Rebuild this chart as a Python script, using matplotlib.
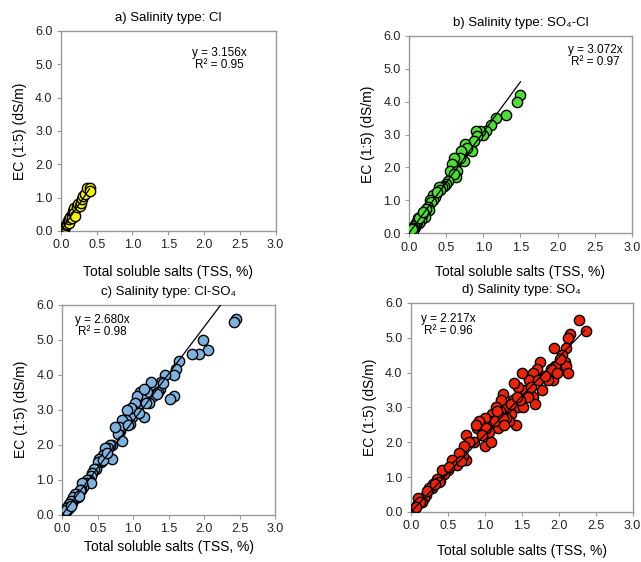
import matplotlib.pyplot as plt
import numpy as np

plt.rcParams['font.family'] = ['Liberation Sans', 'DejaVu Sans']

# ------ data ------
titles = ['a) Salinity type: Cl', 'b) Salinity type: SO\u2084-Cl',
          'c) Salinity type: Cl-SO\u2084', 'd) Salinity type: SO\u2084']
slopes = [3.156, 3.072, 2.680, 2.217]
r2 = [0.95, 0.97, 0.98, 0.96]
line_end = [0.40, 1.50, 2.24, 2.35]
colors = ['#f2ef1a', '#4fdc3a', '#7fb2de', '#e8250a']

a_x = [0.05, 0.06, 0.07, 0.08, 0.10, 0.11, 0.12, 0.13, 0.15, 0.16, 0.17, 0.18,
       0.19, 0.20, 0.22, 0.24, 0.26, 0.28, 0.30, 0.31, 0.33, 0.37, 0.40, 0.40]
a_y = [0.08, 0.12, 0.18, 0.22, 0.30, 0.25, 0.35, 0.42, 0.48, 0.40, 0.60, 0.70,
       0.55, 0.45, 0.72, 0.80, 0.75, 0.85, 0.95, 1.05, 1.10, 1.28, 1.30, 1.20]

b_x = [1.50, 1.45, 1.30, 1.17, 1.10, 1.03, 1.00, 0.95, 0.90, 0.92, 0.88, 0.85,
       0.76, 0.78, 0.72, 0.74, 0.70, 0.68, 0.60, 0.62, 0.58, 0.56, 0.55, 0.65,
       0.63, 0.60, 0.52, 0.50, 0.47, 0.45, 0.40, 0.42, 0.36, 0.35, 0.33, 0.32,
       0.28, 0.30, 0.25, 0.27, 0.23, 0.20, 0.22, 0.18, 0.15, 0.16, 0.12, 0.13,
       0.11, 0.10, 0.09, 0.08, 0.07, 0.06, 0.05, 0.05, 0.04, 0.14, 0.19, 0.38]
b_y = [4.20, 4.00, 3.60, 3.50, 3.30, 3.10, 3.00, 3.10, 3.10, 2.95, 2.80, 2.50,
       2.70, 2.60, 2.40, 2.20, 2.50, 2.30, 2.30, 2.00, 2.10, 1.85, 1.90, 1.90,
       1.70, 1.80, 1.60, 1.50, 1.45, 1.40, 1.40, 1.30, 1.20, 1.10, 1.15, 1.00,
       1.00, 0.95, 0.80, 0.70, 0.75, 0.60, 0.50, 0.55, 0.50, 0.40, 0.45, 0.30,
       0.35, 0.30, 0.25, 0.20, 0.22, 0.15, 0.10, 0.08, 0.12, 0.45, 0.65, 1.25]

c_x = [2.45, 2.42, 1.98, 2.05, 1.93, 1.83, 1.65, 1.60, 1.57, 1.58, 1.52, 1.45,
       1.40, 1.38, 1.30, 1.25, 1.28, 1.20, 1.22, 1.15, 1.10, 1.12, 1.05, 1.07,
       1.02, 1.00, 0.98, 0.95, 0.97, 0.92, 0.90, 0.88, 0.85, 0.82, 0.80, 0.78,
       0.84, 0.75, 0.70, 0.68, 0.65, 0.62, 0.60, 0.58, 0.70, 0.55, 0.52, 0.50,
       0.48, 0.45, 0.42, 0.40, 0.38, 0.35, 0.33, 0.40, 0.30, 0.28, 0.26, 0.25,
       0.22, 0.20, 0.18, 0.17, 0.15, 0.14, 0.12, 0.11, 0.10, 0.09, 0.08, 0.07,
       0.06, 0.05, 0.05, 1.35, 1.18, 1.08, 1.16, 0.93, 1.33, 1.42, 0.57, 0.63,
       0.24, 0.13]
c_y = [5.60, 5.50, 5.00, 4.70, 4.60, 4.60, 4.40, 4.15, 4.00, 3.40, 3.30, 4.00,
       3.80, 3.60, 3.70, 3.80, 3.40, 3.50, 3.20, 2.80, 3.50, 3.30, 3.40, 3.10,
       3.20, 3.00, 2.80, 2.60, 3.05, 3.00, 2.70, 2.60, 2.70, 2.40, 2.50, 2.30,
       2.10, 2.50, 2.00, 2.00, 1.90, 1.80, 1.90, 1.70, 1.60, 1.50, 1.60, 1.50,
       1.30, 1.30, 1.20, 1.10, 1.00, 1.00, 0.90, 0.90, 0.80, 0.90, 0.70, 0.70,
       0.50, 0.60, 0.60, 0.45, 0.50, 0.35, 0.40, 0.30, 0.30, 0.20, 0.22, 0.15,
       0.18, 0.10, 0.14, 3.50, 3.20, 2.90, 3.60, 2.55, 3.45, 3.75, 1.55, 1.75,
       0.55, 0.25]

d_x = [2.28, 2.37, 2.15, 2.12, 2.10, 1.93, 2.05, 2.08, 2.10, 2.13, 1.95, 1.90,
       1.92, 1.85, 1.75, 1.78, 1.70, 1.65, 1.60, 1.65, 1.50, 1.55, 1.45, 1.40,
       1.38, 1.45, 1.42, 1.35, 1.30, 1.25, 1.22, 1.20, 1.15, 1.10, 1.12, 1.05,
       1.00, 0.95, 0.92, 0.90, 0.98, 1.00, 1.08, 0.85, 0.75, 0.78, 0.72, 0.75,
       0.70, 0.65, 0.60, 0.55, 0.50, 0.45, 0.42, 0.40, 0.35, 0.30, 0.28, 0.25,
       0.20, 0.18, 0.15, 0.10, 0.08, 0.05, 1.62, 1.68, 1.58, 1.52, 1.48, 1.33,
       1.28, 1.18, 1.14, 1.06, 1.02, 0.96, 0.88, 1.24, 1.36, 1.72, 1.82, 1.98,
       2.02, 0.62, 0.68, 0.52, 0.38, 0.33, 0.22, 0.12, 0.07, 1.16, 1.26, 1.44]
d_y = [5.50, 5.20, 5.10, 5.00, 4.70, 4.70, 4.50, 4.30, 4.20, 4.00, 4.20, 4.10,
       3.80, 3.80, 4.30, 3.50, 4.10, 4.00, 3.80, 3.30, 4.00, 3.50, 3.60, 3.70,
       3.20, 3.00, 2.50, 2.80, 3.00, 3.40, 3.20, 2.90, 3.00, 2.80, 2.50, 2.60,
       2.70, 2.50, 2.60, 2.40, 2.30, 1.90, 2.00, 2.00, 2.20, 2.00, 1.90, 1.50,
       1.60, 1.70, 1.40, 1.50, 1.20, 1.10, 1.20, 0.90, 0.95, 0.80, 0.70, 0.70,
       0.50, 0.40, 0.30, 0.40, 0.20, 0.10, 3.60, 3.10, 3.30, 3.00, 3.20, 2.60,
       2.70, 2.40, 2.60, 2.30, 2.40, 2.20, 2.50, 2.70, 3.10, 3.80, 3.90, 4.00,
       4.40, 1.35, 1.45, 1.30, 0.85, 0.80, 0.60, 0.30, 0.15, 2.90, 2.50, 3.30]

xs = [a_x, b_x, c_x, d_x]
ys = [a_y, b_y, c_y, d_y]

# axes boxes (left, bottom, width, height) in figure fraction
boxes = [(0.095, 0.589, 0.335, 0.356), (0.638, 0.585, 0.348, 0.351),
         (0.097, 0.084, 0.332, 0.374), (0.641, 0.089, 0.346, 0.372)]
eq_pos = [(0.74, 0.92), (0.834, 0.96), (0.19, 0.957), (0.167, 0.952)]
xpads = [9.5, 8.5, 3.5, 8.5]

fig = plt.figure(figsize=(6.41, 5.62), dpi=100)

for i in range(4):
    ax = fig.add_axes(boxes[i])
    ax.scatter(xs[i], ys[i], s=55, c=colors[i], edgecolors='black',
               linewidths=1.0, zorder=3)
    lx = np.array([0, line_end[i]])
    ax.plot(lx, slopes[i] * lx, color='black', linewidth=0.9, zorder=4)
    ax.set_xlim(0, 3)
    ax.set_ylim(0, 6)
    ax.set_xticks(np.arange(0, 3.01, 0.5))
    ax.set_yticks(np.arange(0, 6.01, 1.0))
    ax.set_xticklabels([f'{v:.1f}' for v in np.arange(0, 3.01, 0.5)])
    ax.set_yticklabels([f'{v:.1f}' for v in np.arange(0, 6.01, 1.0)])
    for sp in ax.spines.values():
        sp.set_color('#999999')
        sp.set_linewidth(1.0)
    ax.tick_params(direction='out', length=3, color='#999999',
                   labelsize=9, labelcolor='#222222', pad=3)
    ax.set_xlabel('Total soluble salts (TSS, %)', fontsize=10,
                  labelpad=xpads[i])
    ax.set_ylabel('EC (1:5) (dS/m)', fontsize=10, labelpad=6)
    ax.set_title(titles[i], fontsize=9.5, pad=7)
    ax.text(eq_pos[i][0], eq_pos[i][1],
            f'y = {slopes[i]:.3f}x\nR\u00b2 = {r2[i]:.2f}',
            transform=ax.transAxes, ha='center', va='top', fontsize=8.5,
            linespacing=1.05)

fig.savefig('out.png', dpi=100)
